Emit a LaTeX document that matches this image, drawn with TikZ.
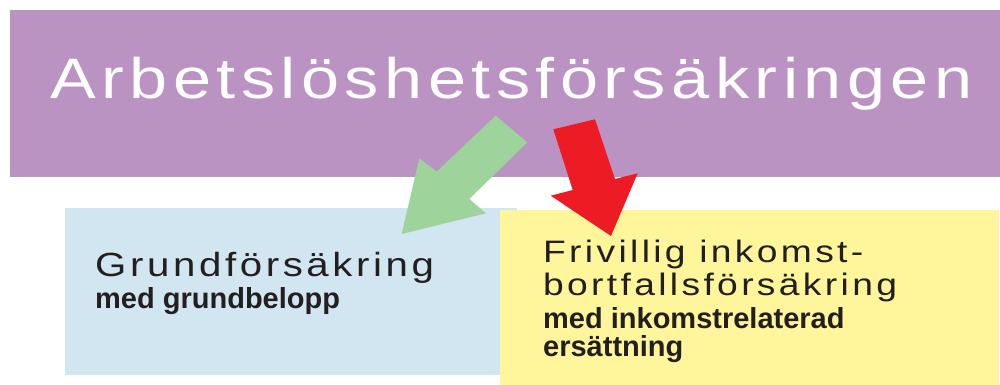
\documentclass[tikz,border=0pt]{standalone}
\usepackage{graphicx}
\usepackage{fontspec}
\setmainfont{Liberation Sans}
\newfontfamily\titlefont[LetterSpace=8]{Liberation Sans}
\newfontfamily\spacedfont[LetterSpace=9]{Liberation Sans}
\definecolor{purplebg}{HTML}{BB93C3}
\definecolor{bluebg}{HTML}{D2E6F1}
\definecolor{yellowbg}{HTML}{FFF59A}
\definecolor{greenarrow}{HTML}{9FD39C}
\definecolor{redarrow}{HTML}{ED1C24}
\definecolor{darktext}{HTML}{231F20}
\tikzset{
  txt/.style={inner sep=0pt, anchor=base west, text=darktext},
  panel/.style={draw=none},
}
\newcommand{\wide}[1]{\scalebox{1.2}[1]{#1}}
\begin{document}
\begin{tikzpicture}[x=1pt,y=-1pt]
\useasboundingbox (0,0) rectangle (1000,385);
\fill[purplebg] (10,10) rectangle (1000,177);
\fill[bluebg] (65,208) rectangle (517,375);
\fill[yellowbg] (500,210) rectangle (999,385);
% green block arrow
\fill[greenarrow] (495.7,115.7) -- (527.3,142.3) -- (469.3,199) -- (486,213.3) -- (401.7,234) -- (419.3,158.3) -- (436.7,171.7) -- cycle;
% red block arrow
\fill[redarrow] (553.3,129.3) -- (595,119.3) -- (615,179) -- (637.7,173.3) -- (611,236) -- (550.7,195.7) -- (572.7,190) -- cycle;
\node[txt, text=white] (title) at (50,99) {\wide{\titlefont\fontsize{57}{60}\selectfont Arbetslöshetsförsäkringen}};
\node[txt] (grund) at (95,276) {\wide{\spacedfont\fontsize{33.5}{36}\selectfont Grundförsäkring}};
\node[txt] (grundsub) at (95,308) {\bfseries\fontsize{29}{32}\selectfont med grundbelopp};
\node[txt] (friv1) at (543,262) {\wide{\spacedfont\fontsize{31}{34}\selectfont Frivillig inkomst-}};
\node[txt] (friv2) at (543,295) {\wide{\spacedfont\fontsize{31}{34}\selectfont bortfallsförsäkring}};
\node[txt] (frivsub1) at (543,328) {\bfseries\fontsize{29}{32}\selectfont med inkomstrelaterad};
\node[txt] (frivsub2) at (543,356) {\bfseries\fontsize{29}{32}\selectfont ersättning};
\end{tikzpicture}
\end{document}
